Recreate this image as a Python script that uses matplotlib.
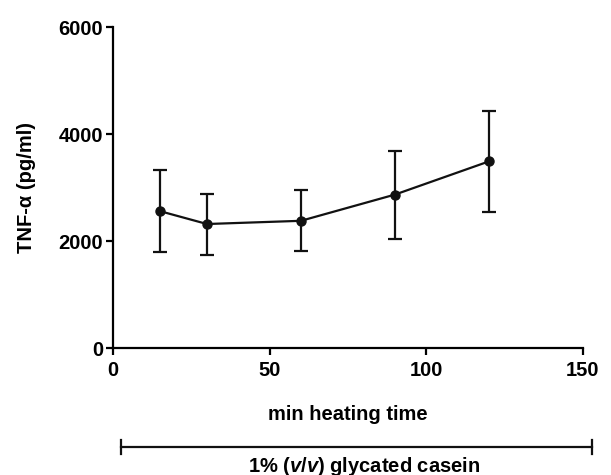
import numpy as np
import matplotlib
matplotlib.use('Agg')
import matplotlib.pyplot as plt
from matplotlib.lines import Line2D

# =============================================================================
# Data
# =============================================================================
heat_time = [15, 30, 60, 90, 120]
tnf_mean = [2560, 2320, 2380, 2870, 3490]
tnf_low = [1800, 1750, 1810, 2040, 2540]
tnf_high = [3320, 2890, 2950, 3690, 4430]

# =============================================================================
# Plot
# =============================================================================
plt.rcParams['font.family'] = ['Liberation Sans', 'DejaVu Sans']
plt.rcParams['font.weight'] = 'bold'
plt.rcParams['mathtext.fontset'] = 'custom'
plt.rcParams['mathtext.rm'] = 'Liberation Sans:bold'
plt.rcParams['mathtext.it'] = 'Liberation Sans:italic:bold'

fs = 14.5
fig = plt.figure(figsize=(6.11, 4.75), dpi=100)
ax = fig.add_axes([0.185, 0.267, 0.769, 0.676])

m = np.array(tnf_mean)
yerr = [m - np.array(tnf_low), np.array(tnf_high) - m]
ax.errorbar(heat_time, tnf_mean, yerr=yerr, color='#111111', marker='o',
            markersize=6.5, linewidth=1.6, elinewidth=1.6, capsize=5,
            capthick=1.6)

ax.set_xlim(0, 150)
ax.set_ylim(0, 6000)
ax.set_xticks([0, 50, 100, 150])
ax.set_yticks([0, 2000, 4000, 6000])
ax.spines['top'].set_visible(False)
ax.spines['right'].set_visible(False)
for s in ['left', 'bottom']:
    ax.spines[s].set_linewidth(1.6)
ax.tick_params(direction='out', length=5, width=1.6, labelsize=fs, pad=2)
ax.tick_params(axis='x', pad=4)
for lab in ax.get_xticklabels() + ax.get_yticklabels():
    lab.set_fontweight('bold')

ax.set_xlabel('min heating time', fontsize=fs, fontweight='bold', labelpad=18)
ax.set_ylabel('TNF-\u03b1 (pg/ml)', fontsize=fs, fontweight='bold', labelpad=16)

# bracket below the axis
bx0, bx1, by = 0.018, 1.02, -0.308
ax.add_line(Line2D([bx0, bx1], [by, by], transform=ax.transAxes,
                   color='#111111', linewidth=1.6, clip_on=False))
for bx in [bx0, bx1]:
    ax.add_line(Line2D([bx, bx], [by - 0.022, by + 0.022], transform=ax.transAxes,
                       color='#111111', linewidth=1.6, clip_on=False))
ax.text(0.535, by - 0.025, r'1% $\mathit{(v/v)}$ glycated casein',
        transform=ax.transAxes, ha='center', va='top', fontsize=fs,
        fontweight='bold')

fig.savefig('out.png', dpi=100)
